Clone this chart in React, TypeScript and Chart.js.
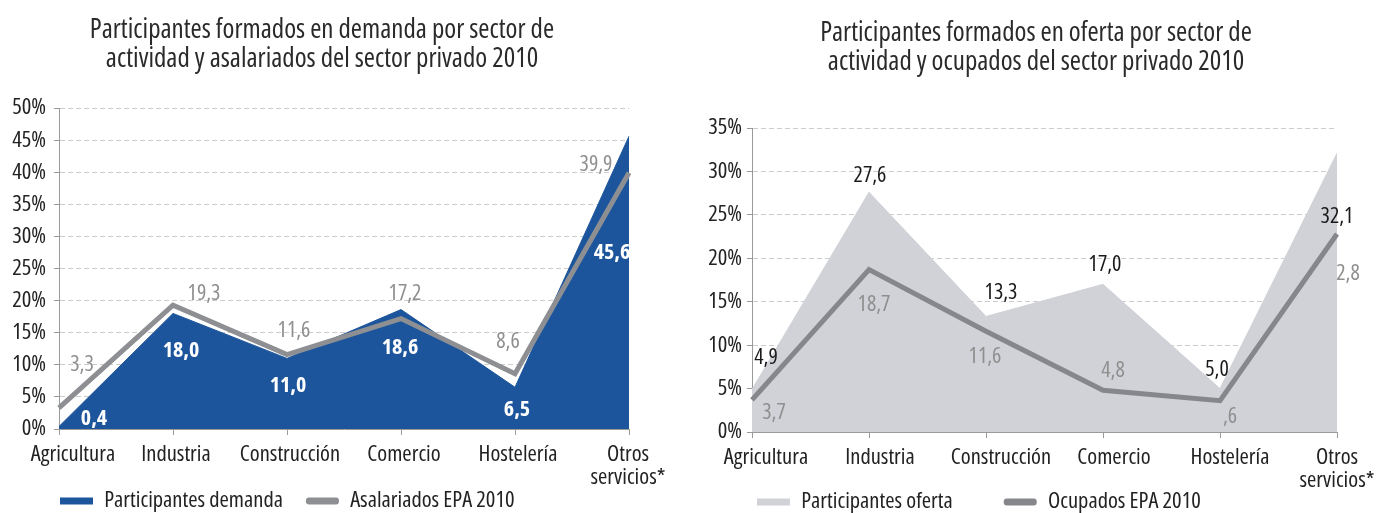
import React, { useEffect, useRef } from 'react';
import { Chart, registerables } from 'chart.js';

Chart.register(...registerables);

// ---------- data ----------
const categories: (string | string[])[] = [
  'Agricultura',
  'Industria',
  'Construcción',
  'Comercio',
  'Hostelería',
  ['Otros', 'servicios*'],
];

const leftTitle = [
  'Participantes formados en demanda por sector de',
  'actividad y asalariados del sector privado 2010',
];
const rightTitle = [
  'Participantes formados en oferta por sector de',
  'actividad y ocupados del sector privado 2010',
];

const demandaLabel = 'Participantes demanda';
const asalariadosLabel = 'Asalariados EPA 2010';
const ofertaLabel = 'Participantes oferta';
const ocupadosLabel = 'Ocupados EPA 2010';

const demandaValues = [0.4, 18.0, 11.0, 18.6, 6.5, 45.6];
const asalariadosValues = [3.3, 19.3, 11.6, 17.2, 8.6, 39.9];
const ofertaValues = [4.9, 27.6, 13.3, 17.0, 5.0, 32.1];
const ocupadosValues = [3.7, 18.7, 11.6, 4.8, 3.6, 22.8];

// value labels as printed in the reference (two are cut in the original)
const fmt = (v: number) => v.toFixed(1).replace('.', ',');
const demandaText = demandaValues.map(fmt);
const asalariadosText = asalariadosValues.map(fmt);
const ofertaText = ofertaValues.map(fmt);
const ocupadosText = ['3,7', '18,7', '11,6', '4,8', ',6', '2,8'];

const leftYMax = 50;
const rightYMax = 35;
const yStep = 5;
const pctTick = (v: number | string) => `${v}%`;

// ---------- styles ----------
const FONT = "'Open Sans', 'Roboto', sans-serif";
const COND = 'condensed';
const TEXT = '#222222';
const TITLE_COLOR = '#2a2a2a';
const AXIS = '#9a9a9a';
const GRID = '#cccccc';
const BLUE = '#1d559c';
const GRAY_LINE_L = '#8e8f93';
const GRAY_LABEL = '#8f8f8f';
const LIGHT_AREA = '#d0d2d8';
const GRAY_LINE_R = '#86878b';
const TICK_FS = 22.5;
const LEGEND_FS = 22.5;
const TITLE_FS = 27;

// label offsets (pixels from each point), style only
const demandaOffsets = [[35, -8], [8, 37], [1, 27], [-1, 38], [2, 22], [-17, 116]];
const asalariadosOffsets = [[23, -43], [31, -11], [7, -24], [4, -25], [-7, -32], [-33, -8]];
const ofertaOffsets = [[14, -32], [1, -17], [15, -24], [2, -20], [-3, -19], [0, 64]];
const ocupadosOffsets = [[22, 13], [5, 35], [-1, 25], [10, -20], [10, 16], [11, 40]];
// horizontal shift of each category label from its tick, style only
const leftTickShift = [14, 3, 3, 3, 3, -1];
const rightTickShift = [14, 11, 15, 11, 10, 0];

type LabelSpec = {
  dataset: number;
  texts: string[];
  offsets: number[][];
  font: string;
  color: string;
};

const valueLabelPlugin = (specs: LabelSpec[]) => ({
  id: 'valueLabels',
  afterDatasetsDraw(chart: any) {
    const ctx = chart.ctx as CanvasRenderingContext2D;
    specs.forEach((spec) => {
      const meta = chart.getDatasetMeta(spec.dataset);
      meta.data.forEach((pt: any, i: number) => {
        const off = spec.offsets[i] || [0, 0];
        ctx.save();
        ctx.font = spec.font;
        ctx.fillStyle = spec.color;
        ctx.textAlign = 'center';
        ctx.textBaseline = 'middle';
        ctx.fillText(spec.texts[i], pt.x + off[0], pt.y + off[1]);
        ctx.restore();
      });
    });
  },
});

const legendPlacePlugin = (x: number, yc: number, pad: number) => ({
  id: 'legendPlace',
  beforeDraw(chart: any) {
    const lg = chart.legend;
    if (!lg) return;
    lg.left = x - pad;
    lg.right = chart.width;
    lg.top = yc - pad - LEGEND_FS / 2;
    lg.bottom = chart.height;
  },
});

const tickShiftPlugin = (shifts: number[]) => ({
  id: 'tickShift',
  beforeDraw(chart: any) {
    const sc = chart.scales && chart.scales.x;
    if (!sc || typeof sc.getLabelItems !== 'function') return;
    const items = sc.getLabelItems(chart.chartArea);
    items.forEach((it: any, i: number) => {
      if (it._shifted) return;
      const tr = it.options && it.options.translation;
      if (tr) {
        tr[0] += shifts[i] || 0;
        it._shifted = true;
      }
    });
  },
});

type PanelCfg = {
  title: string[];
  titlePad: { top: number; bottom: number };
  layoutPad: { left: number; right: number };
  xPadRight: number;
  xHeight: number;
  legendH: number;
  yWidth: number;
  yPad: number;
  yMax: number;
  tickShift: number[];
  areaLabel: string;
  areaValues: number[];
  areaColor: string;
  lineLabel: string;
  lineValues: number[];
  lineColor: string;
  legendPad: number;
  legendX: number;
  legendY: number;
  labels: LabelSpec[];
};

function buildConfig(c: PanelCfg): any {
  const legendColors = [c.areaColor, c.lineColor];
  const legendRadii = [0, 3];
  return {
    type: 'line',
    data: {
      labels: categories,
      datasets: [
        {
          label: c.areaLabel,
          data: c.areaValues,
          fill: 'origin',
          backgroundColor: c.areaColor,
          borderColor: c.areaColor,
          borderWidth: 1,
          pointRadius: 0,
          tension: 0,
          order: 2,
        },
        {
          label: c.lineLabel,
          data: c.lineValues,
          fill: false,
          backgroundColor: c.lineColor,
          borderColor: c.lineColor,
          borderWidth: 5,
          pointRadius: 0,
          tension: 0,
          order: 1,
        },
      ],
    },
    options: {
      responsive: false,
      animation: false,
      devicePixelRatio: 1,
      events: [],
      layout: { padding: { left: c.layoutPad.left, right: c.layoutPad.right, top: 0, bottom: 0 } },
      plugins: {
        tooltip: { enabled: false },
        title: {
          display: true,
          text: c.title,
          color: TITLE_COLOR,
          font: { family: FONT, size: TITLE_FS, weight: COND, lineHeight: 29 / TITLE_FS },
          padding: c.titlePad,
        },
        legend: {
          display: true,
          position: 'bottom',
          align: 'start',
          maxHeight: c.legendH,
          labels: {
            boxWidth: 33,
            boxHeight: 7,
            padding: c.legendPad,
            color: TEXT,
            font: { family: FONT, size: LEGEND_FS, weight: COND },
            useBorderRadius: true,
            generateLabels: (chart: any) =>
              chart.data.datasets.map((ds: any, i: number) => ({
                text: ds.label,
                fillStyle: legendColors[i],
                strokeStyle: legendColors[i],
                lineWidth: 0,
                hidden: false,
                datasetIndex: i,
                borderRadius: legendRadii[i],
                fontColor: TEXT,
              })),
          },
        },
      },
      scales: {
        x: {
          offset: false,
          grid: {
            drawOnChartArea: false,
            drawTicks: true,
            tickLength: 6,
            tickColor: AXIS,
            color: AXIS,
          },
          border: { display: true, color: AXIS, width: 1 },
          ticks: {
            color: TEXT,
            font: { family: FONT, size: TICK_FS, weight: COND, lineHeight: 23 / TICK_FS },
            padding: 8,
            autoSkip: false,
            maxRotation: 0,
            minRotation: 0,
          },
          afterFit: (s: any) => {
            s.paddingLeft = 0;
            s.paddingRight = c.xPadRight;
            s.height = c.xHeight;
          },
        },
        y: {
          min: 0,
          max: c.yMax,
          ticks: {
            stepSize: yStep,
            callback: pctTick,
            color: TEXT,
            font: { family: FONT, size: TICK_FS, weight: COND },
            padding: c.yPad,
          },
          grid: {
            color: (ctx: any) => (ctx.tick && ctx.tick.value === 0 ? 'rgba(0,0,0,0)' : GRID),
            tickColor: AXIS,
            tickLength: 5,
            drawTicks: true,
          },
          border: { display: true, color: AXIS, width: 1, dash: [5, 3] },
          afterFit: (s: any) => {
            s.width = c.yWidth;
          },
        },
      },
    },
    plugins: [
      valueLabelPlugin(c.labels),
      legendPlacePlugin(c.legendX, c.legendY, c.legendPad),
      tickShiftPlugin(c.tickShift),
    ],
  };
}

const leftCfg: PanelCfg = {
  title: leftTitle,
  titlePad: { top: 16, bottom: 34 },
  layoutPad: { left: 11, right: 47 },
  xPadRight: 51,
  xHeight: 60,
  legendH: 24,
  yWidth: 48,
  yPad: 8,
  yMax: leftYMax,
  tickShift: leftTickShift,
  areaLabel: demandaLabel,
  areaValues: demandaValues,
  areaColor: BLUE,
  lineLabel: asalariadosLabel,
  lineValues: asalariadosValues,
  lineColor: GRAY_LINE_L,
  legendPad: 23,
  legendX: 60,
  legendY: 501,
  labels: [
    { dataset: 0, texts: demandaText, offsets: demandaOffsets, font: `bold ${COND} 22px ${FONT}`, color: '#ffffff' },
    { dataset: 1, texts: asalariadosText, offsets: asalariadosOffsets, font: `${COND} 22px ${FONT}`, color: GRAY_LABEL },
  ],
};

const rightCfg: PanelCfg = {
  title: rightTitle,
  titlePad: { top: 19, bottom: 51 },
  layoutPad: { left: 15, right: 11 },
  xPadRight: 41,
  xHeight: 60,
  legendH: 21,
  yWidth: 47,
  yPad: 5,
  yMax: rightYMax,
  tickShift: rightTickShift,
  areaLabel: ofertaLabel,
  areaValues: ofertaValues,
  areaColor: LIGHT_AREA,
  lineLabel: ocupadosLabel,
  lineValues: ocupadosValues,
  lineColor: GRAY_LINE_R,
  legendPad: 51,
  legendX: 67,
  legendY: 502,
  labels: [
    { dataset: 0, texts: ofertaText, offsets: ofertaOffsets, font: `${COND} 22px ${FONT}`, color: '#1a1a1a' },
    { dataset: 1, texts: ocupadosText, offsets: ocupadosOffsets, font: `${COND} 22px ${FONT}`, color: GRAY_LABEL },
  ],
};

function Panel({ cfg, left, width }: { cfg: PanelCfg; left: number; width: number }) {
  const ref = useRef<HTMLCanvasElement>(null);
  useEffect(() => {
    if (!ref.current) return;
    const chart = new Chart(ref.current, buildConfig(cfg));
    return () => chart.destroy();
  }, [cfg]);
  return (
    <canvas
      ref={ref}
      width={width}
      height={513}
      style={{ position: 'absolute', left, top: 0, width, height: 513, display: 'block' }}
    />
  );
}

export default function App() {
  return (
    <div
      style={{
        position: 'fixed',
        left: 0,
        top: 0,
        width: 1378,
        height: 513,
        background: '#ffffff',
        overflow: 'hidden',
      }}
    >
      <Panel cfg={leftCfg} left={0} width={680} />
      <Panel cfg={rightCfg} left={690} width={688} />
    </div>
  );
}
